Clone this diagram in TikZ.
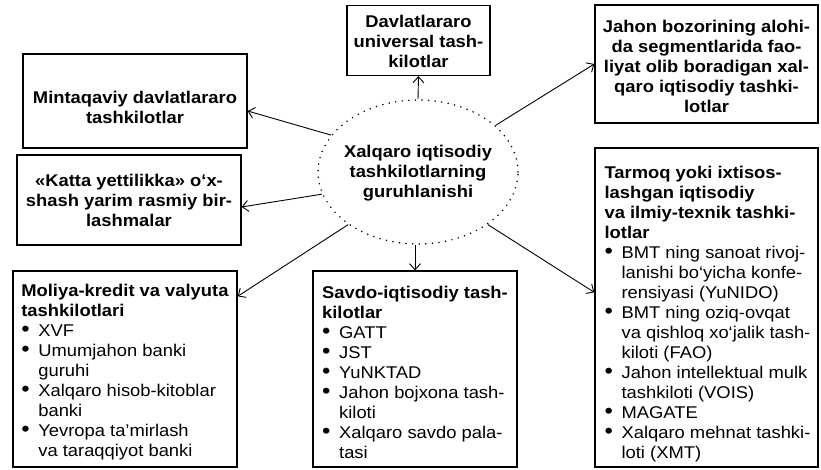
\documentclass[tikz,border=0pt]{standalone}
\usepackage{fontspec}
\setmainfont[FakeStretch=1.08]{Liberation Sans}
\usetikzlibrary{arrows.meta,calc,shapes.geometric}
\newcommand{\fsz}{\fontsize{17}{20}\selectfont}
\newcommand{\bl}[1]{\makebox[17pt][l]{\scalebox{1.3}{\textbullet}}#1}
\newcommand{\ct}[1]{\hspace*{17pt}#1}
\begin{document}
\begin{tikzpicture}[x=1pt,y=-1pt,
  frame/.style={draw, line width=1.3pt, inner sep=0pt},
  ctxt/.style={inner sep=0pt, align=center, font=\fsz\bfseries},
  ltxt/.style={inner sep=0pt, align=left, font=\fsz},
  con/.style={line width=0.9pt, -{Straight Barb[length=6pt,width=11pt]}},
  dotell/.style={ellipse, draw, line width=1.7pt, dash pattern=on 0pt off 6.6pt, line cap=round, inner sep=0pt}
]
\useasboundingbox (0,0) rectangle (821,470);
\node[dotell, minimum width=200pt, minimum height=144pt] (c) at (418,172) {};
\node[ctxt] (ct) at ($(c.center)+(0,1)$) {Xalqaro iqtisodiy\\tashkilotlarning\\guruhlanishi};

\node[frame, minimum width=143pt, minimum height=70pt] (dav) at (418.5,40.5) {};
\node[ctxt] (davt) at ($(dav.center)+(0,1)$) {Davlatlararo\\universal tash-\\kilotlar};

\node[frame, minimum width=223pt, minimum height=118pt] (jah) at (706.5,64) {};
\node[ctxt] (jaht) at ($(jah.center)+(0,2)$) {Jahon bozorining alohi-\\da segmentlarida fao-\\liyat olib boradigan xal-\\qaro iqtisodiy tashki-\\lotlar};

\node[frame, minimum width=224pt, minimum height=94pt] (min) at (135,101) {};
\node[ctxt] (mint) at ($(min.center)+(0,6)$) {Mintaqaviy davlatlararo\\tashkilotlar};

\node[frame, minimum width=224pt, minimum height=90pt] (kat) at (129,200) {};
\node[ctxt] (katt) at ($(kat.center)+(0,0)$) {«Katta yettilikka» o‘x-\\shash yarim rasmiy bir-\\lashmalar};

\node[frame, minimum width=224pt, minimum height=196pt] (mol) at (125,369) {};
\node[ltxt] (molt) at ($(mol.center)+(0,3)$) {\textbf{Moliya-kredit va valyuta}\\\textbf{tashkilotlari}\\\bl{XVF}\\\bl{Umumjahon banki}\\\ct{guruhi}\\\bl{Xalqaro hisob-kitoblar}\\\ct{banki}\\\bl{Yevropa ta'mirlash}\\\ct{va taraqqiyot banki}};

\node[frame, minimum width=204pt, minimum height=196pt] (sav) at (415,369) {};
\node[ltxt] (savt) at ($(sav.center)+(0,3)$) {\textbf{Savdo-iqtisodiy tash-}\\\textbf{kilotlar}\\\bl{GATT}\\\bl{JST}\\\bl{YuNKTAD}\\\bl{Jahon bojxona tash-}\\\ct{kiloti}\\\bl{Xalqaro savdo pala-}\\\ct{tasi}};

\node[frame, minimum width=223pt, minimum height=319pt] (tar) at (706.5,307.5) {};
\node[ltxt] (tart) at ($(tar.center)+(1,7)$) {\textbf{Tarmoq yoki ixtisos-}\\\textbf{lashgan iqtisodiy}\\\textbf{va ilmiy-texnik tashki-}\\\textbf{lotlar}\\\bl{BMT ning sanoat rivoj-}\\\ct{lanishi bo‘yicha konfe-}\\\ct{rensiyasi (YuNIDO)}\\\bl{BMT ning oziq-ovqat}\\\ct{va qishloq xo‘jalik tash-}\\\ct{kiloti (FAO)}\\\bl{Jahon intellektual mulk}\\\ct{tashkiloti (VOIS)}\\\bl{MAGATE}\\\bl{Xalqaro mehnat tashki-}\\\ct{loti (XMT)}};

\draw[con] (c.90) -- (dav.south);
\draw[con] (c.31.7) -- (jah.west);
\draw[con] (c.157) -- ($(min.east)+(0,10)$);
\draw[con] (c.193.6) -- ($(kat.east)+(0,7)$);
\draw[con] (c.217) -- ($(mol.north east)+(0,26)$);
\draw[con] (sav.north |- c.south) -- (sav.north);
\draw[con] (c.323) -- ($(tar.north west)+(0,145)$);
\end{tikzpicture}
\end{document}
